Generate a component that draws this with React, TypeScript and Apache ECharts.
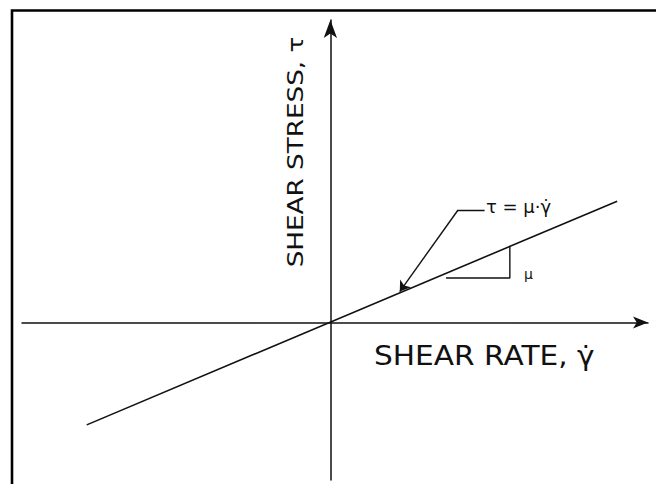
import React, { useEffect, useRef } from "react";
import * as echarts from "echarts";

// Shear rate (x) and shear stress (y) for the Newtonian line  tau = mu * gammaDot
const shearRate = [-7.9, 9.3];
const shearStress = [-3.25, 3.85];

// slope triangle showing mu
const slopeRate = [3.75, 5.82, 5.82];
const slopeStress = [1.41, 1.41, 2.4];

// leader line from the equation label to the curve
const leaderRate = [5.0, 4.14, 2.25];
const leaderStress = [3.57, 3.57, 0.98];

const xLabel = "SHEAR RATE, \u03B3\u0307";
const yLabel = "SHEAR STRESS, \u03C4";
const eqLabel = "\u03C4 = \u03BC\u00B7\u03B3\u0307";
const muLabel = "\u03BC";

const INK = "#111";
const FONT = '"DejaVu Sans", sans-serif';

export default function App() {
  const ref = useRef<HTMLDivElement>(null);
  useEffect(() => {
    if (!ref.current) return;
    const chart = echarts.init(ref.current, undefined, { renderer: "svg" });
    const lineData = shearRate.map((x, i) => [x, shearStress[i]]);
    const slopeData = slopeRate.map((x, i) => [x, slopeStress[i]]);
    chart.setOption({
      animation: false,
      backgroundColor: "#fff",
      grid: { left: 22, right: 8, top: 20, bottom: 4 },
      xAxis: {
        type: "value",
        min: -10,
        max: 10.3,
        axisLine: {
          onZero: true,
          lineStyle: { color: INK, width: 1.5 },
          symbol: ["none", "arrow"],
          symbolSize: [9, 15],
        },
        axisTick: { show: false },
        axisLabel: { show: false },
        splitLine: { show: false },
      },
      yAxis: {
        type: "value",
        min: -5,
        max: 9.6,
        axisLine: {
          onZero: true,
          lineStyle: { color: INK, width: 1.5 },
          symbol: ["none", "arrow"],
          symbolSize: [10, 18],
        },
        axisTick: { show: false },
        axisLabel: { show: false },
        splitLine: { show: false },
      },
      series: [
        {
          type: "line",
          data: lineData,
          showSymbol: false,
          lineStyle: { color: INK, width: 1.6 },
        },
        {
          type: "line",
          data: slopeData,
          showSymbol: false,
          lineStyle: { color: INK, width: 1.4 },
        },
        {
          type: "lines",
          coordinateSystem: "cartesian2d",
          symbol: ["none", "none"],
          lineStyle: { color: INK, width: 1.4, opacity: 1 },
          data: [{ coords: [[leaderRate[0], leaderStress[0]], [leaderRate[1], leaderStress[1]]] }],
        },
        {
          type: "lines",
          coordinateSystem: "cartesian2d",
          symbol: ["none", "arrow"],
          symbolSize: [7, 10],
          lineStyle: { color: INK, width: 1.4, opacity: 1 },
          data: [{ coords: [[leaderRate[1], leaderStress[1]], [leaderRate[2], leaderStress[2]]] }],
        },
      ],
      graphic: [
        {
          type: "polyline",
          shape: { points: [[12, 484], [12, 10.5], [656, 10.5]] },
          style: { stroke: "#000", lineWidth: 2.6, fill: "none" },
        },
        {
          type: "text",
          x: 374,
          y: 356,
          scaleX: 1.14,
          style: {
            text: xLabel,
            font: `26px ${FONT}`,
            fill: INK,
            textAlign: "left",
            textVerticalAlign: "middle",
          },
        },
        {
          type: "text",
          x: 296,
          y: 152,
          rotation: Math.PI / 2,
          scaleX: 1.28,
          style: {
            text: yLabel,
            font: `20.5px ${FONT}`,
            fill: INK,
            textAlign: "center",
            textVerticalAlign: "middle",
          },
        },
        {
          type: "text",
          x: 486,
          y: 207,
          scaleX: 1.06,
          style: {
            text: eqLabel,
            font: `17px ${FONT}`,
            fill: INK,
            textAlign: "left",
            textVerticalAlign: "middle",
          },
        },
        {
          type: "text",
          x: 524,
          y: 274,
          style: {
            text: muLabel,
            font: `14px ${FONT}`,
            fill: INK,
            textAlign: "left",
            textVerticalAlign: "middle",
          },
        },
      ],
    });
    return () => chart.dispose();
  }, []);
  return (
    <div style={{ position: "absolute", left: 0, top: 0 }}>
      <div ref={ref} style={{ width: 656, height: 484 }} />
    </div>
  );
}
